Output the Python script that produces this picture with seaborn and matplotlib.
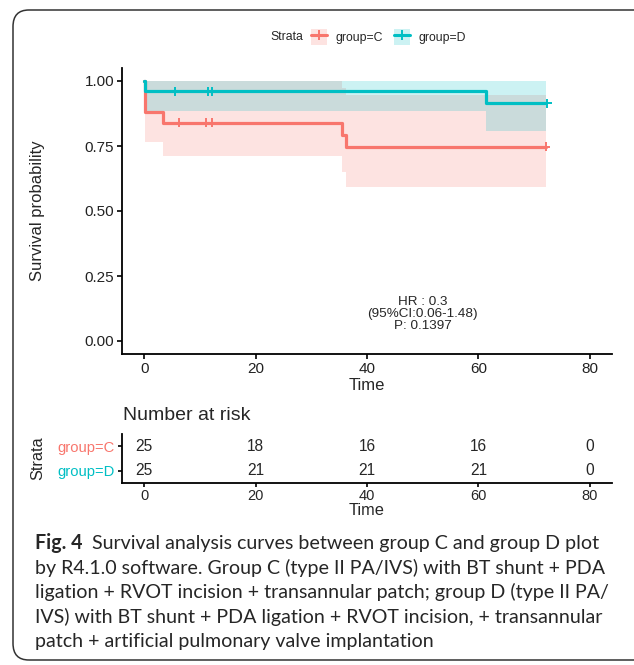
import pandas as pd
import seaborn as sns
import matplotlib.pyplot as plt
from matplotlib.patches import FancyBboxPatch, Patch
from matplotlib.lines import Line2D

# Kaplan-Meier steps
c_time = [0, 0.15, 3.4, 35.5, 36.3, 72.1]
c_surv = [1.0, 0.88, 0.84, 0.793, 0.747, 0.747]
c_lower = [1.0, 0.764, 0.71, 0.649, 0.591, 0.591]
c_upper = [1.0, 1.0, 1.0, 0.975, 0.948, 0.948]

d_time = [0, 0.1, 61.3, 72.1]
d_surv = [1.0, 0.96, 0.914, 0.914]
d_lower = [1.0, 0.885, 0.806, 0.806]
d_upper = [1.0, 1.0, 1.0, 1.0]

c_cens_time = [6.3, 11.0, 12.1, 72.1]
c_cens_surv = [0.84, 0.84, 0.84, 0.747]
d_cens_time = [5.6, 11.5, 12.1, 72.3]
d_cens_surv = [0.96, 0.96, 0.96, 0.914]

risk_times = [0, 20, 40, 60, 80]
risk_c = [25, 18, 16, 16, 0]
risk_d = [25, 21, 21, 21, 0]

groups = ["group=C", "group=D"]
colors = {"group=C": "#F8766D", "group=D": "#00BFC4"}

caption = [
    "Survival analysis curves between group C and group D plot",
    "by R4.1.0 software. Group C (type II PA/IVS) with BT shunt + PDA",
    "ligation + RVOT incision + transannular patch; group D (type II PA/",
    "IVS) with BT shunt + PDA ligation + RVOT incision, + transannular",
    "patch + artificial pulmonary valve implantation",
]

sns.set_style("white")
plt.rcParams["font.family"] = ["Liberation Sans", "DejaVu Sans"]

curves = pd.concat([
    pd.DataFrame({"time": c_time, "surv": c_surv, "group": "group=C"}),
    pd.DataFrame({"time": d_time, "surv": d_surv, "group": "group=D"}),
])
cens = pd.concat([
    pd.DataFrame({"time": c_cens_time, "surv": c_cens_surv, "group": "group=C"}),
    pd.DataFrame({"time": d_cens_time, "surv": d_cens_surv, "group": "group=D"}),
])

W, H = 634, 665
fig = plt.figure(figsize=(W / 100, H / 100), dpi=100)

def box(l, t, r, b):
    return [l / W, 1 - b / H, (r - l) / W, (b - t) / H]

ax = fig.add_axes(box(122, 68, 612, 354))
ax.fill_between(c_time, c_lower, c_upper, step="post", color=colors["group=C"], alpha=0.2, lw=0)
ax.fill_between(d_time, d_lower, d_upper, step="post", color=colors["group=D"], alpha=0.2, lw=0)
sns.lineplot(data=curves, x="time", y="surv", hue="group", palette=colors,
             drawstyle="steps-post", estimator=None, sort=False,
             linewidth=2.3, legend=False, ax=ax)
sns.scatterplot(data=cens, x="time", y="surv", hue="group", palette=colors,
                marker="+", s=45, linewidth=1.4, legend=False, ax=ax, zorder=5)

ax.set_xlim(-4, 84)
ax.set_ylim(-0.05, 1.05)
ax.set_xticks(risk_times)
ax.set_yticks([0, 0.25, 0.5, 0.75, 1.0])
ax.set_yticklabels(["0.00", "0.25", "0.50", "0.75", "1.00"])
ax.set_xlabel("Time", fontsize=12, labelpad=2)
ax.set_ylabel("Survival probability", fontsize=12)
ax.yaxis.set_label_coords(-0.157, 0.5)
ax.text(50, 0.103, "HR : 0.3\n(95%CI:0.06-1.48)\nP: 0.1397", ha="center", va="center",
        fontsize=9.7, linespacing=1.0)
for side in ["top", "right"]:
    ax.spines[side].set_visible(False)
for side in ["left", "bottom"]:
    ax.spines[side].set_linewidth(1.3)
    ax.spines[side].set_color("black")
ax.tick_params(axis="both", length=3.5, width=1.2, color="black", labelsize=11,
               labelcolor="#222222", pad=2, direction="out", bottom=True, left=True)

# legend on top
fig.text(287 / W, 1 - 36.7 / H, "Strata", ha="center", va="center", fontsize=8.8)
handles = [(Patch(facecolor=colors[g], alpha=0.2, lw=0),
            Line2D([], [], color=colors[g], lw=2.2, marker="+", markersize=7, mew=1.4))
           for g in groups]
fig.legend(handles, groups, ncol=2, loc="center left", bbox_to_anchor=(305 / W, 1 - 36.7 / H),
           frameon=False, fontsize=8.8, handlelength=1.3, handleheight=1.6,
           handletextpad=0.7, columnspacing=0.9, borderpad=0)

# risk table
tab = fig.add_axes(box(122, 434, 612, 483))
for i, (g, vals) in enumerate(zip(groups, [risk_c, risk_d])):
    for t, v in zip(risk_times, vals):
        tab.text(t, i + 1, str(v), ha="center", va="center", fontsize=11.2)
tab.set_xlim(-4, 84)
tab.set_ylim(2.5, 0.5)
tab.set_xticks(risk_times)
tab.set_yticks([1, 2])
tab.set_yticklabels(groups)
for lbl, g in zip(tab.get_yticklabels(), groups):
    lbl.set_color(colors[g])
tab.set_xlabel("Time", fontsize=11.8, labelpad=0)
tab.set_ylabel("Strata", fontsize=11.7)
tab.yaxis.set_label_coords(-0.157, 0.5)
for side in ["top", "right"]:
    tab.spines[side].set_visible(False)
for side in ["left", "bottom"]:
    tab.spines[side].set_linewidth(1.3)
    tab.spines[side].set_color("black")
tab.tick_params(axis="x", length=3, width=1.2, color="black", labelsize=10.5, pad=1, bottom=True)
tab.tick_params(axis="y", length=3, width=1.2, color="black", labelsize=10.6, pad=2, left=True)
fig.text(123 / W, 1 - 415.7 / H, "Number at risk", ha="left", va="center", fontsize=14)

# caption
cap_font = ["Lato", "DejaVu Sans"]
cap_size = 14.1
ys = [543, 567.5, 592, 616.5, 641]
t0 = fig.text(35 / W, 1 - ys[0] / H, "Fig. 4", ha="left", va="center", fontsize=cap_size,
              fontweight="bold", family=cap_font)
t1 = fig.text(0, 1 - ys[0] / H, "  " + caption[0], ha="left", va="center", fontsize=cap_size,
              family=cap_font)
for y, line in zip(ys[1:], caption[1:]):
    fig.text(35 / W, 1 - y / H, line, ha="left", va="center", fontsize=cap_size, family=cap_font)

frame = FancyBboxPatch((13 / W, 1 - 660 / H), 640 / W, 650 / H, transform=fig.transFigure,
                       boxstyle="round,pad=0,rounding_size=0.025", fill=False,
                       ec="#333333", lw=1.1, clip_on=False)
fig.add_artist(frame)

# put the rest of caption line 1 right after the bold label
fig.canvas.draw()
bb = t0.get_window_extent()
t1.set_x(bb.x1 / W)

fig.savefig("out.png", dpi=100)
